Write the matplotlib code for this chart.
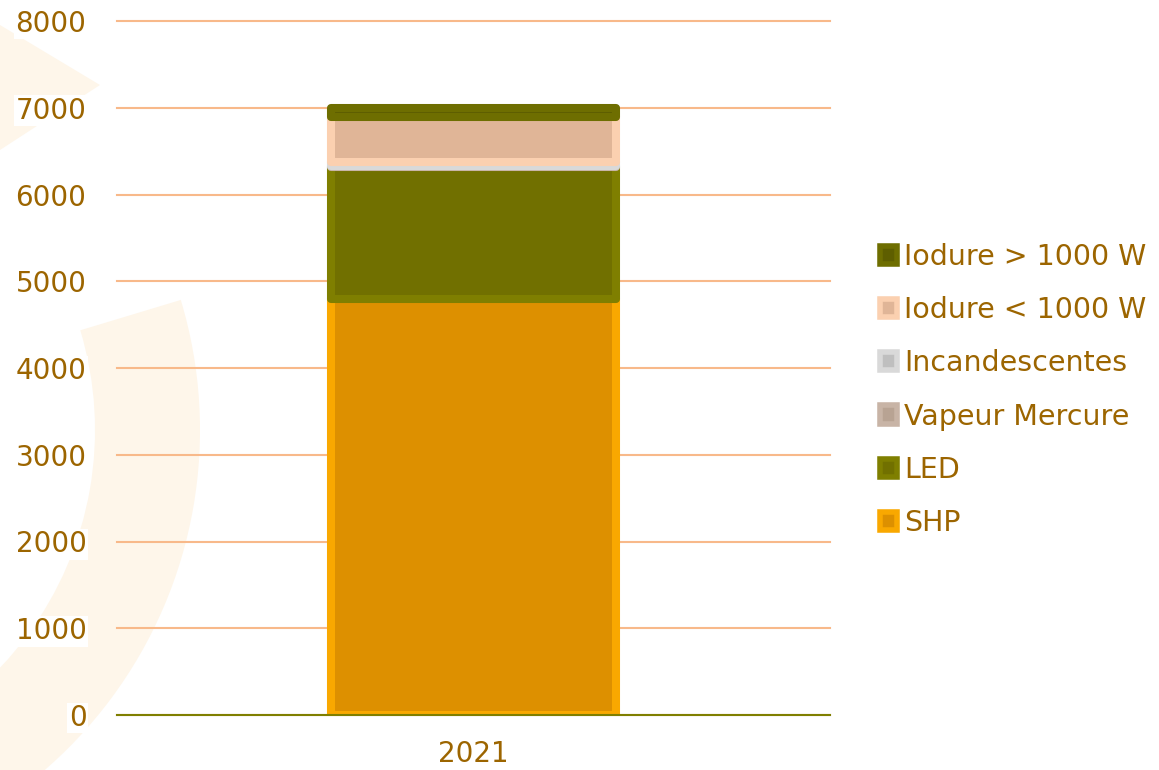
import matplotlib.pyplot as plt
from matplotlib.patches import Patch, Wedge, Polygon

# data
categories = ["2021"]
series = ["SHP", "LED", "Vapeur Mercure", "Incandescentes", "Iodure < 1000 W", "Iodure > 1000 W"]
values = {
    "SHP": [4800],
    "LED": [1520],
    "Vapeur Mercure": [10],
    "Incandescentes": [40],
    "Iodure < 1000 W": [520],
    "Iodure > 1000 W": [110],
}
yticks = [0, 1000, 2000, 3000, 4000, 5000, 6000, 7000, 8000]

# fill / border colours per series
fills = {
    "SHP": "#DD9000",
    "LED": "#717000",
    "Vapeur Mercure": "#B8A393",
    "Incandescentes": "#BFBFBF",
    "Iodure < 1000 W": "#E0B597",
    "Iodure > 1000 W": "#5E5E00",
}
edges = {
    "SHP": "#F9A800",
    "LED": "#7F7F00",
    "Vapeur Mercure": "#C8B4A6",
    "Incandescentes": "#D9D9D9",
    "Iodure < 1000 W": "#FBD0B0",
    "Iodure > 1000 W": "#6E6E00",
}
text_color = "#9C6500"

plt.rcParams["font.family"] = ["DejaVu Sans"]

fig = plt.figure(figsize=(11.59, 7.70), dpi=100)
fig.patch.set_facecolor("white")

# faint watermark shapes in the background (inch coordinates)
wm = "#FEF6EA"
ring = Wedge((-2.5, 3.40), 4.5, -90, 16.8, width=1.05,
             transform=fig.dpi_scale_trans, facecolor=wm, edgecolor="none", zorder=-5)
fig.patches.append(ring)
tri = Polygon([(0, 7.45), (1.0, 6.85), (0, 6.20)], closed=True,
              transform=fig.dpi_scale_trans, facecolor=wm, edgecolor="none", zorder=-5)
fig.patches.append(tri)

W, H = 1159, 770
ax = fig.add_axes([117 / W, 1 - 715 / H, (830 - 117) / W, (715 - 21) / H])
ax.patch.set_alpha(0)

x = list(range(len(categories)))
bottom = [0] * len(categories)
for name in series:
    ax.bar(x, values[name], width=0.4, bottom=bottom, color=fills[name],
           edgecolor=edges[name], linewidth=5.8, joinstyle="round",
           label=name, zorder=3)
    bottom = [b + v for b, v in zip(bottom, values[name])]

ax.set_xlim(-0.5, 0.5)
ax.set_ylim(0, 8000)
ax.set_yticks(yticks)
ax.set_xticks(x)
ax.set_xticklabels(categories)
ax.yaxis.grid(True, color="#F8B98A", linewidth=1.5, zorder=0)
for gl in ax.get_ygridlines():
    gl.set_clip_on(False)
ax.set_axisbelow(True)
for s in ["top", "right", "left"]:
    ax.spines[s].set_visible(False)
ax.spines["bottom"].set_color("#7F7F00")
ax.spines["bottom"].set_linewidth(1.5)
ax.spines["bottom"].set_zorder(4)
ax.tick_params(axis="both", length=0, labelsize=20, colors=text_color)
ax.tick_params(axis="y", pad=22)
ax.tick_params(axis="x", pad=18)
for lbl in ax.get_yticklabels():
    lbl.set_bbox(dict(facecolor="white", edgecolor="none", pad=1))

handles = [Patch(facecolor=fills[n], edgecolor=edges[n], linewidth=4, joinstyle="round")
           for n in series][::-1]
leg = fig.legend(handles, series[::-1], loc="center left",
                 bbox_to_anchor=(866 / W, 1 - 390 / H), frameon=False,
                 fontsize=20.5, labelcolor=text_color, handlelength=0.6,
                 handleheight=0.6, handletextpad=0.25, labelspacing=0.88,
                 borderpad=0)

fig.savefig("out.png", dpi=100)
